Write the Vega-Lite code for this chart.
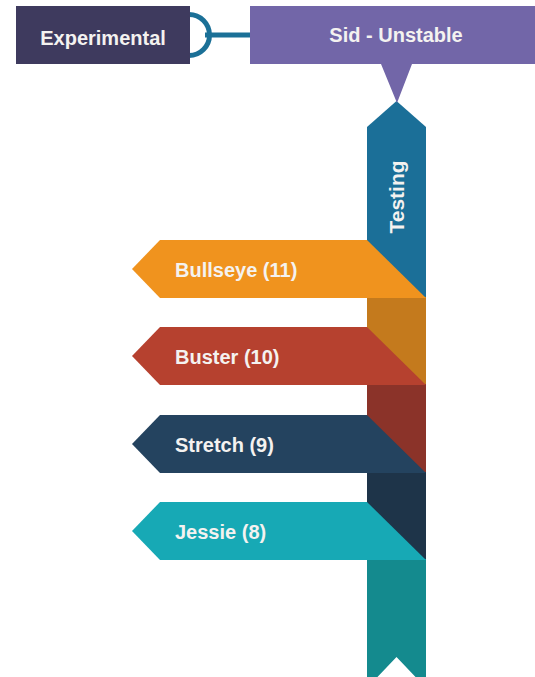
{
  "$schema": "https://vega.github.io/schema/vega-lite/v6.json",
  "width": 535,
  "height": 677,
  "padding": 0,
  "autosize": {"type": "fit", "contains": "padding"},
  "background": "#ffffff",
  "config": {"view": {"stroke": null}},
  "datasets": {
    "ribbon": [
      {"shape": "testing", "i": 1, "x": 367, "y": 127},
      {"shape": "testing", "i": 2, "x": 396.5, "y": 101},
      {"shape": "testing", "i": 3, "x": 426, "y": 127},
      {"shape": "testing", "i": 4, "x": 426, "y": 299},
      {"shape": "testing", "i": 5, "x": 367, "y": 299},
      {"shape": "bullseye_dark", "i": 1, "x": 367, "y": 297},
      {"shape": "bullseye_dark", "i": 2, "x": 426, "y": 297},
      {"shape": "bullseye_dark", "i": 3, "x": 426, "y": 386},
      {"shape": "bullseye_dark", "i": 4, "x": 367, "y": 386},
      {"shape": "buster_dark", "i": 1, "x": 367, "y": 384},
      {"shape": "buster_dark", "i": 2, "x": 426, "y": 384},
      {"shape": "buster_dark", "i": 3, "x": 426, "y": 474},
      {"shape": "buster_dark", "i": 4, "x": 367, "y": 474},
      {"shape": "stretch_dark", "i": 1, "x": 367, "y": 472},
      {"shape": "stretch_dark", "i": 2, "x": 426, "y": 472},
      {"shape": "stretch_dark", "i": 3, "x": 426, "y": 561},
      {"shape": "stretch_dark", "i": 4, "x": 367, "y": 561},
      {"shape": "jessie_dark", "i": 1, "x": 367, "y": 559},
      {"shape": "jessie_dark", "i": 2, "x": 426, "y": 559},
      {"shape": "jessie_dark", "i": 3, "x": 426, "y": 688},
      {"shape": "jessie_dark", "i": 4, "x": 396.5, "y": 657},
      {"shape": "jessie_dark", "i": 5, "x": 367, "y": 688}
    ],
    "boxes": [
      {"shape": "experimental", "i": 1, "x": 16, "y": 6},
      {"shape": "experimental", "i": 2, "x": 190, "y": 6},
      {"shape": "experimental", "i": 3, "x": 190, "y": 64},
      {"shape": "experimental", "i": 4, "x": 16, "y": 64},
      {"shape": "sid", "i": 1, "x": 250, "y": 6},
      {"shape": "sid", "i": 2, "x": 536, "y": 6},
      {"shape": "sid", "i": 3, "x": 536, "y": 64},
      {"shape": "sid", "i": 4, "x": 412, "y": 64},
      {"shape": "sid", "i": 5, "x": 397, "y": 103},
      {"shape": "sid", "i": 6, "x": 381, "y": 64},
      {"shape": "sid", "i": 7, "x": 250, "y": 64},
      {"shape": "bullseye", "i": 1, "x": 132, "y": 269},
      {"shape": "bullseye", "i": 2, "x": 160, "y": 240},
      {"shape": "bullseye", "i": 3, "x": 367, "y": 240},
      {"shape": "bullseye", "i": 4, "x": 426, "y": 298},
      {"shape": "bullseye", "i": 5, "x": 160, "y": 298},
      {"shape": "buster", "i": 1, "x": 132, "y": 356},
      {"shape": "buster", "i": 2, "x": 160, "y": 327},
      {"shape": "buster", "i": 3, "x": 367, "y": 327},
      {"shape": "buster", "i": 4, "x": 426, "y": 385},
      {"shape": "buster", "i": 5, "x": 160, "y": 385},
      {"shape": "stretch", "i": 1, "x": 132, "y": 444},
      {"shape": "stretch", "i": 2, "x": 160, "y": 415},
      {"shape": "stretch", "i": 3, "x": 367, "y": 415},
      {"shape": "stretch", "i": 4, "x": 426, "y": 473},
      {"shape": "stretch", "i": 5, "x": 160, "y": 473},
      {"shape": "jessie", "i": 1, "x": 132, "y": 531},
      {"shape": "jessie", "i": 2, "x": 160, "y": 502},
      {"shape": "jessie", "i": 3, "x": 367, "y": 502},
      {"shape": "jessie", "i": 4, "x": 426, "y": 560},
      {"shape": "jessie", "i": 5, "x": 160, "y": 560}
    ],
    "connector": [
      {"shape": "link", "i": 1, "x": 205, "y": 35},
      {"shape": "link", "i": 2, "x": 251, "y": 35}
    ],
    "ring": [
      {"shape": "link", "x": 189, "y": 35}
    ],
    "labels": [
      {"label": "Experimental", "x": 103, "y": 45},
      {"label": "Sid - Unstable", "x": 396, "y": 42}
    ],
    "banners": [
      {"label": "Bullseye (11)", "x": 175, "y": 277},
      {"label": "Buster (10)", "x": 175, "y": 364},
      {"label": "Stretch (9)", "x": 175, "y": 452},
      {"label": "Jessie (8)", "x": 175, "y": 539}
    ],
    "vertical": [
      {"label": "Testing", "x": 404, "y": 197}
    ]
  },
  "encoding": {
    "x": {"field": "x", "type": "quantitative", "scale": {"domain": [0, 535], "nice": false, "zero": false}, "axis": null},
    "y": {"field": "y", "type": "quantitative", "scale": {"domain": [0, 677], "nice": false, "zero": false, "reverse": true}, "axis": null}
  },
  "layer": [
    {
      "data": {"name": "ring"},
      "mark": {"type": "point", "shape": "circle", "filled": false, "size": 1681, "strokeWidth": 5, "stroke": "#1b7097", "opacity": 1, "clip": true}
    },
    {
      "data": {"name": "connector"},
      "mark": {"type": "line", "strokeWidth": 5, "color": "#1b7097", "clip": true},
      "encoding": {"detail": {"field": "shape"}, "order": {"field": "i", "type": "quantitative"}}
    },
    {
      "data": {"name": "ribbon"},
      "mark": {"type": "line", "filled": true, "interpolate": "linear-closed", "strokeWidth": 0, "clip": true},
      "encoding": {
        "color": {"field": "shape", "type": "nominal", "legend": null,
          "scale": {"domain": ["testing", "bullseye_dark", "buster_dark", "stretch_dark", "jessie_dark", "experimental", "sid", "bullseye", "buster", "stretch", "jessie"],
                    "range": ["#1b6f98", "#c47a1d", "#8b3329", "#1e3449", "#148a8e", "#3e3a5e", "#7266a8", "#f0931e", "#b6412f", "#24435f", "#17a9b5"]}},
        "order": {"field": "i", "type": "quantitative"}
      }
    },
    {
      "data": {"name": "boxes"},
      "mark": {"type": "line", "filled": true, "interpolate": "linear-closed", "strokeWidth": 0, "clip": true},
      "encoding": {
        "color": {"field": "shape", "type": "nominal", "legend": null,
          "scale": {"domain": ["testing", "bullseye_dark", "buster_dark", "stretch_dark", "jessie_dark", "experimental", "sid", "bullseye", "buster", "stretch", "jessie"],
                    "range": ["#1b6f98", "#c47a1d", "#8b3329", "#1e3449", "#148a8e", "#3e3a5e", "#7266a8", "#f0931e", "#b6412f", "#24435f", "#17a9b5"]}},
        "order": {"field": "i", "type": "quantitative"}
      }
    },
    {
      "data": {"name": "labels"},
      "mark": {"type": "text", "font": "Liberation Sans", "fontWeight": "bold", "fontSize": 20, "align": "center", "baseline": "alphabetic", "color": "#f4f2f0"},
      "encoding": {"text": {"field": "label"}}
    },
    {
      "data": {"name": "banners"},
      "mark": {"type": "text", "font": "Liberation Sans", "fontWeight": "bold", "fontSize": 20, "align": "left", "baseline": "alphabetic", "color": "#f4f2f0"},
      "encoding": {"text": {"field": "label"}}
    },
    {
      "data": {"name": "vertical"},
      "mark": {"type": "text", "font": "Liberation Sans", "fontWeight": "bold", "fontSize": 21, "align": "center", "baseline": "alphabetic", "angle": 270, "color": "#f4f2f0"},
      "encoding": {"text": {"field": "label"}}
    }
  ]
}
